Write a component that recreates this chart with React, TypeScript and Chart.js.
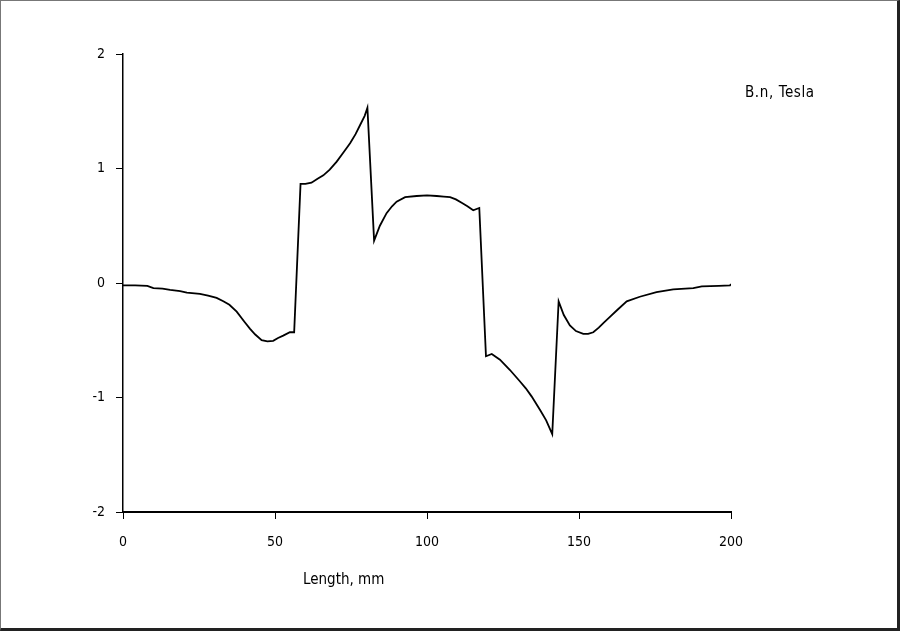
import React, { useEffect, useRef } from "react";
import { Chart, registerables } from "chart.js";

Chart.register(...registerables);

const lengthMm: number[] = [
  0, 4, 8, 10, 13, 15.5, 18.8, 21, 25.3, 28, 30.8, 33, 35, 37.4, 40, 41.8, 43.5, 45.6, 47.5, 49.4,
  51, 52.7, 54.9, 56.3, 58.4, 60, 62, 64, 65.9, 68, 70.3, 72.5, 74.7, 76.5, 78, 79.5, 80.4,
  82.6, 84.5, 86.7, 88.5, 90, 92.8, 96.6, 100, 103.2, 105.5, 107.6, 109.5, 111.4, 113.3, 115.2, 117.2,
  119.4, 121.3, 124, 127.3, 130.6, 132.5, 134.4, 137.2, 139.2, 141.2,
  143.3, 145, 147, 149, 151.4, 153, 154.7, 156.5, 158, 160, 162.4, 165.7, 170, 175.5, 181, 187.6, 190.4, 196, 199.7, 200,
];

const bnTesla: number[] = [
  -0.02, -0.02, -0.025, -0.045, -0.05, -0.06, -0.07, -0.085, -0.095, -0.11, -0.13, -0.16, -0.19, -0.25, -0.34, -0.4, -0.45, -0.5, -0.51, -0.505,
  -0.48, -0.46, -0.43, -0.43, 0.865, 0.865, 0.876, 0.91, 0.94, 0.99, 1.06, 1.14, 1.22, 1.3, 1.38, 1.46, 1.53,
  0.37, 0.5, 0.61, 0.67, 0.71, 0.75, 0.76, 0.765, 0.76, 0.755, 0.75, 0.73, 0.7, 0.67, 0.635, 0.655,
  -0.64, -0.62, -0.67, -0.76, -0.86, -0.92, -0.99, -1.11, -1.2, -1.32,
  -0.16, -0.28, -0.37, -0.42, -0.445, -0.445, -0.43, -0.39, -0.35, -0.3, -0.24, -0.16, -0.12, -0.08, -0.055, -0.045, -0.03, -0.025, -0.02, -0.01,
];

const xTickValues: number[] = [0, 50, 100, 150, 200];
const yTickValues: number[] = [-2, -1, 0, 1, 2];
const xTitle = "Length, mm";
const seriesLabel = "B.n, Tesla";

const FONT = "'DejaVu Sans Condensed', 'DejaVu Sans', sans-serif";

export default function App() {
  const ref = useRef<HTMLCanvasElement | null>(null);

  useEffect(() => {
    document.body.style.margin = "0";
    const canvas = ref.current;
    if (!canvas) return;
    const points = lengthMm.map((x, i) => ({ x, y: bnTesla[i] }));
    const chart = new Chart(canvas, {
      type: "line",
      data: {
        datasets: [
          {
            label: seriesLabel,
            data: points,
            borderColor: "#000",
            borderWidth: 1.8,
            pointRadius: 0,
            tension: 0,
            fill: false,
          },
        ],
      },
      options: {
        responsive: false,
        animation: false,
        devicePixelRatio: 1,
        layout: { padding: { left: 0, top: 54, right: 169, bottom: 0 } },
        plugins: { legend: { display: false }, tooltip: { enabled: false }, title: { display: false } },
        scales: {
          x: {
            type: "linear",
            min: 0,
            max: 200,
            afterFit: (s: any) => {
              s.height = 631 - 512;
            },
            afterBuildTicks: (s: any) => {
              s.ticks = xTickValues.map((v) => ({ value: v }));
            },
            ticks: { color: "#000", font: { family: FONT, size: 14 }, padding: 15, maxRotation: 0 },
            grid: { display: true, drawOnChartArea: false, drawTicks: true, tickLength: 7, color: "#000", lineWidth: 1 },
            border: { display: true, color: "#000", width: 2 },
          },
          y: {
            type: "linear",
            min: -2,
            max: 2,
            afterFit: (s: any) => {
              s.width = 123;
            },
            afterBuildTicks: (s: any) => {
              s.ticks = yTickValues.map((v) => ({ value: v }));
            },
            ticks: { color: "#000", font: { family: FONT, size: 14 }, padding: 11 },
            grid: { display: true, drawOnChartArea: false, drawTicks: true, tickLength: 7, color: "#000", lineWidth: 1 },
            border: { display: true, color: "#000", width: 1.5 },
          },
        },
      },
    });
    return () => chart.destroy();
  }, []);

  return (
    <div style={{ position: "fixed", left: 0, top: 0, width: 900, height: 631, background: "#fff" }}>
      <canvas ref={ref} width={900} height={631} style={{ position: "absolute", left: 0, top: 0, width: 900, height: 631 }} />
      <div
        style={{
          position: "absolute",
          left: 745,
          top: 83,
          font: `15px ${FONT}`,
          letterSpacing: "0.6px",
          color: "#000",
          whiteSpace: "nowrap",
        }}
      >
        {seriesLabel}
      </div>
      <div
        style={{
          position: "absolute",
          left: 303,
          top: 570,
          font: `15px ${FONT}`,
          color: "#000",
          whiteSpace: "nowrap",
        }}
      >
        {xTitle}
      </div>
      <div
        style={{
          position: "absolute",
          left: 0,
          top: 0,
          width: 900,
          height: 631,
          boxSizing: "border-box",
          borderTop: "1px solid #777",
          borderLeft: "1px solid #777",
          borderRight: "3px solid #222",
          borderBottom: "3px solid #222",
          pointerEvents: "none",
        }}
      />
    </div>
  );
}
